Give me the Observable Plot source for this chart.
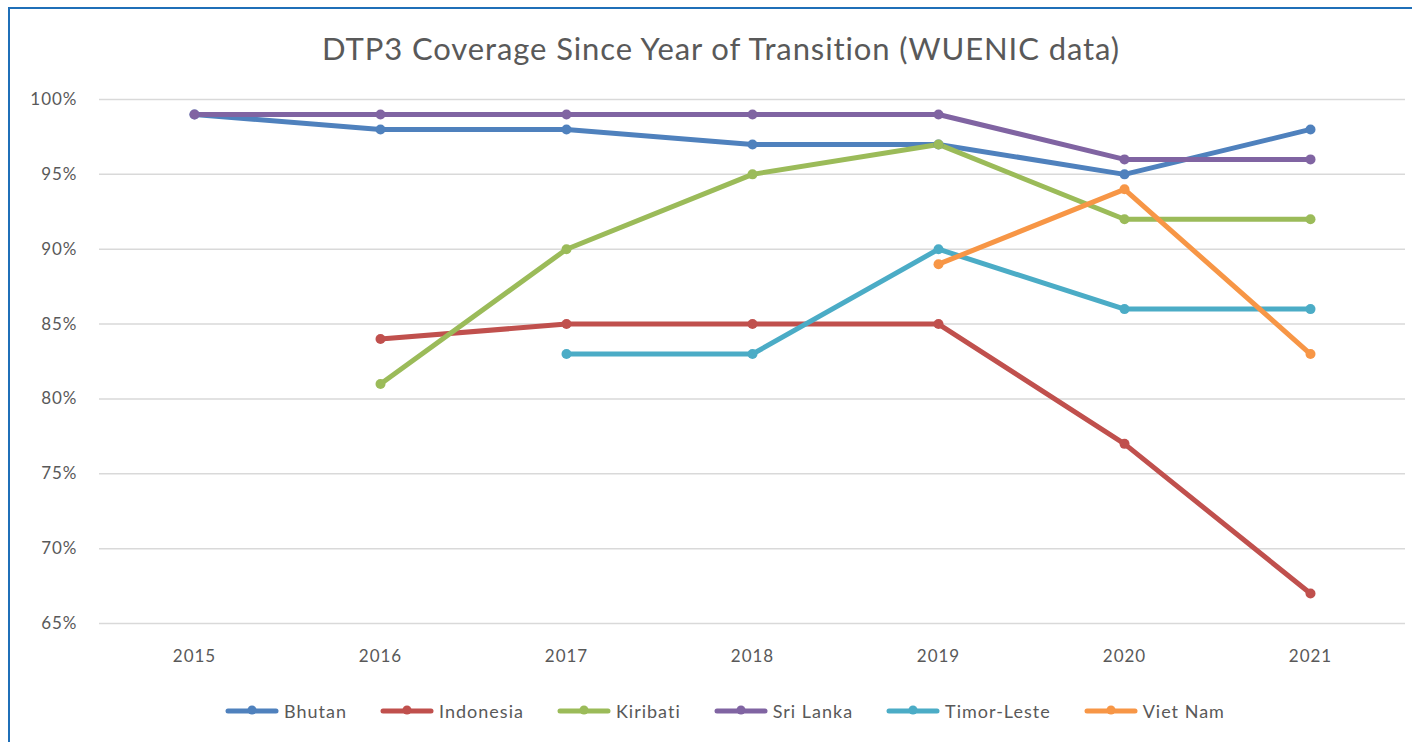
<!DOCTYPE html>
<html>
<head>
<meta charset="utf-8">
<script src="https://cdn.jsdelivr.net/npm/d3@7"></script>
<script src="https://cdn.jsdelivr.net/npm/@observablehq/plot@0.6"></script>
<style>
  html, body { margin: 0; padding: 0; background: #fff; overflow: hidden; }
  #wrap { position: relative; width: 1412px; height: 742px; font-family: Lato, "Open Sans", sans-serif; }
  #frame { position: absolute; left: 8px; top: 7px; width: 1420px; height: 760px; border-top: 2.5px solid #1f6fb8; border-left: 2.5px solid #1f6fb8; box-sizing: border-box; }
  #title { position: absolute; left: 0; width: 1442px; top: 29px; text-align: center; font-size: 31px; color: #595959; letter-spacing: 0.9px; }
  #legend { position: absolute; left: 0; width: 1449px; top: 700px; display: flex; justify-content: center; gap: 32px; font-size: 18px; color: #595959; letter-spacing: 1px; }
  .item { display: flex; align-items: center; gap: 4px; }
  #chart { position: absolute; left: 0; top: 0; }
  #chart svg text { letter-spacing: 1px; }
</style>
</head>
<body>
<div id="wrap">
  <div id="frame"></div>
  <div id="chart"></div>
  <div id="title">DTP3 Coverage Since Year of Transition (WUENIC data)</div>
  <div id="legend"></div>
</div>
<script>
const years = ["2015", "2016", "2017", "2018", "2019", "2020", "2021"];
const countries = ["Bhutan", "Indonesia", "Kiribati", "Sri Lanka", "Timor-Leste", "Viet Nam"];
const colors = ["#4F81BD", "#C0504D", "#9BBB59", "#8064A2", "#4BACC6", "#F79646"];
const bhutan     = [99, 98, 98, 97, 97, 95, 98];
const indonesia  = [null, 84, 85, 85, 85, 77, 67];
const kiribati   = [null, 81, 90, 95, 97, 92, 92];
const sriLanka   = [99, 99, 99, 99, 99, 96, 96];
const timorLeste = [null, null, 83, 83, 90, 86, 86];
const vietNam    = [null, null, null, null, 89, 94, 83];
const yTicks = [0.65, 0.70, 0.75, 0.80, 0.85, 0.90, 0.95, 1.00];

const series = [bhutan, indonesia, kiribati, sriLanka, timorLeste, vietNam];
const rows = [];
series.forEach((vals, i) => {
  vals.forEach((v, j) => {
    if (v != null) rows.push({country: countries[i], year: years[j], value: v / 100});
  });
});

const chart = Plot.plot({
  width: 1412,
  height: 742,
  marginTop: 99,
  marginBottom: 119,
  marginLeft: 99,
  marginRight: 7,
  style: {fontFamily: "Lato, 'Open Sans', sans-serif", fontSize: "17px", color: "#595959", background: "transparent"},
  x: {type: "point", domain: years, padding: 0.5, label: null},
  y: {domain: [0.65, 1.0], label: null},
  color: {domain: countries, range: colors},
  marks: [
    Plot.gridY(yTicks, {stroke: "#d9d9d9", strokeOpacity: 1, strokeWidth: 1.5}),
    Plot.axisY(yTicks, {tickSize: 0, tickPadding: 22, tickFormat: d => Math.round(d * 100) + "%", fill: "#595959", label: null}),
    Plot.axisX(years, {tickSize: 0, tickPadding: 26, fill: "#595959", label: null}),
    Plot.line(rows, {x: "year", y: "value", z: "country", stroke: "country", strokeWidth: 5, strokeLinejoin: "round", strokeLinecap: "round"}),
    Plot.dot(rows, {x: "year", y: "value", fill: "country", r: 5})
  ]
});
document.getElementById("chart").appendChild(chart);

const legend = document.getElementById("legend");
countries.forEach((c, i) => {
  const item = document.createElement("div");
  item.className = "item";
  item.innerHTML = `<svg width="56" height="14"><line x1="4" y1="7" x2="52" y2="7" stroke="${colors[i]}" stroke-width="5" stroke-linecap="round"/><circle cx="28" cy="6" r="4.5" fill="${colors[i]}"/></svg><span>${c}</span>`;
  legend.appendChild(item);
});
</script>
</body>
</html>
